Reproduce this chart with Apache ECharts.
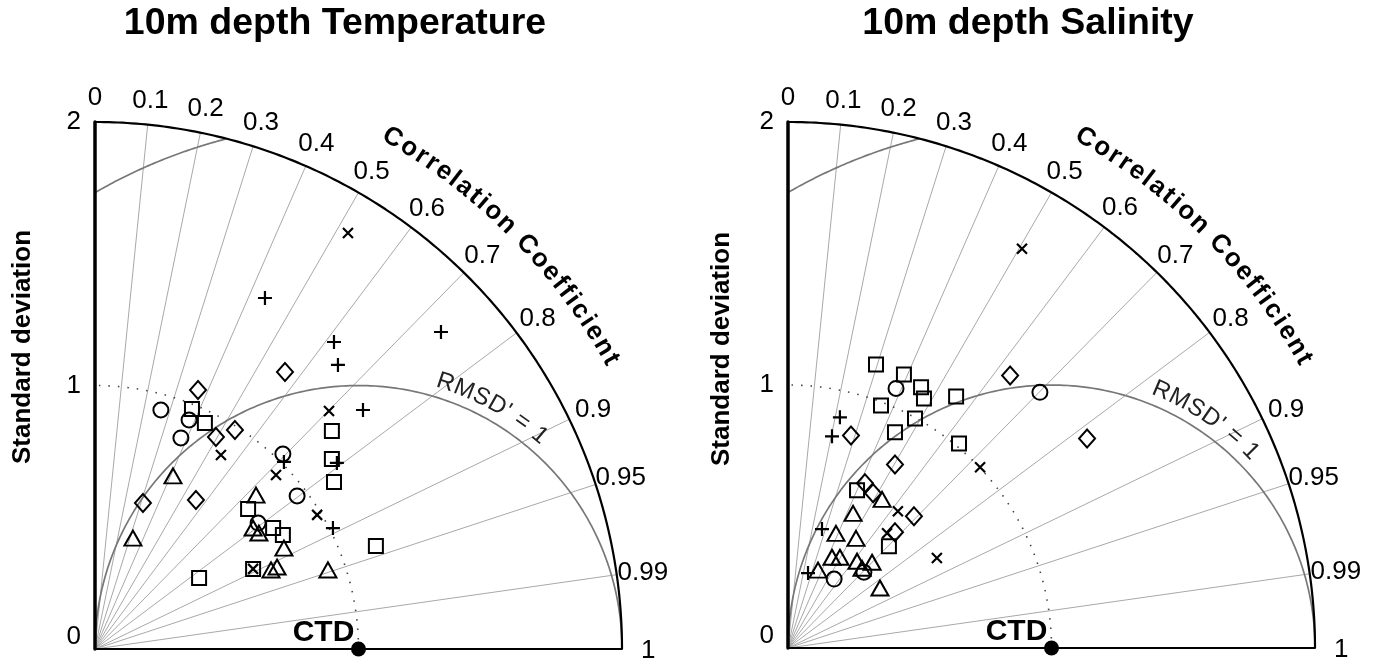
<!DOCTYPE html>
<html><head><meta charset="utf-8">
<script src="https://cdn.jsdelivr.net/npm/echarts@6/dist/echarts.min.js"></script>
<style>html,body{margin:0;padding:0;background:#fff}#c{width:1375px;height:661px}</style>
</head><body><div id="c"></div>
<script>
// ---------------- data ----------------
const titles = ['10m depth Temperature', '10m depth Salinity'];
const corrTicks = [0, 0.1, 0.2, 0.3, 0.4, 0.5, 0.6, 0.7, 0.8, 0.9, 0.95, 0.99, 1];
const corrTickLabels = ['0', '0.1', '0.2', '0.3', '0.4', '0.5', '0.6', '0.7', '0.8', '0.9', '0.95', '0.99', '1'];
const rayCorrs = [0.1, 0.2, 0.3, 0.4, 0.5, 0.6, 0.7, 0.8, 0.9, 0.95, 0.99];
const refStd = 1;          // CTD reference (normalised std)
const maxStd = 2;
const rmsdContours = [1, 2];
const rmsdLabel = "RMSD' = 1";
const refLabel = 'CTD';
const corrTitle = 'Correlation Coefficient';
const yName = 'Standard deviation';

// points: [std*corr, std*sqrt(1-corr^2)] in normalised std units
const tempCircle = [[0.250,0.907],[0.357,0.869],[0.326,0.801],[0.713,0.740],[0.767,0.581],[0.619,0.478]];
const tempSquare = [[0.368,0.911],[0.417,0.858],[0.395,0.269],[0.899,0.827],[0.899,0.721],[0.907,0.634],[0.581,0.531],[0.676,0.459],[0.713,0.433],[1.066,0.391],[0.600,0.304]];
const tempTriangle = [[0.296,0.657],[0.144,0.421],[0.611,0.584],[0.600,0.459],[0.622,0.440],[0.717,0.383],[0.668,0.300],[0.691,0.311],[0.884,0.300]];
const tempDiamond = [[0.721,1.051],[0.391,0.983],[0.531,0.831],[0.459,0.805],[0.182,0.554],[0.383,0.565]];
const tempPlus = [[0.645,1.332],[0.907,1.165],[0.922,1.078],[1.313,1.203],[1.017,0.907],[0.918,0.706],[0.903,0.459],[0.717,0.710]];
const tempCross = [[0.960,1.579],[0.478,0.736],[0.687,0.660],[0.888,0.903],[0.843,0.509],[0.600,0.304]];

const salCircle = [[0.410,0.987],[0.956,0.972],[0.175,0.262],[0.288,0.288]];
const salSquare = [[0.334,1.078],[0.440,1.040],[0.505,0.991],[0.516,0.949],[0.638,0.956],[0.353,0.922],[0.482,0.873],[0.406,0.820],[0.649,0.778],[0.262,0.600],[0.383,0.387]];
const salTriangle = [[0.357,0.565],[0.247,0.512],[0.182,0.436],[0.258,0.417],[0.167,0.345],[0.197,0.345],[0.262,0.330],[0.319,0.326],[0.114,0.296],[0.281,0.303],[0.349,0.228]];
const salDiamond = [[0.843,1.036],[0.239,0.808],[1.135,0.797],[0.406,0.698],[0.292,0.626],[0.323,0.588],[0.478,0.501],[0.406,0.440]];
const salPlus = [[0.197,0.877],[0.167,0.805],[0.129,0.452],[0.076,0.285]];
const salCross = [[0.888,1.518],[0.729,0.687],[0.417,0.520],[0.376,0.436],[0.565,0.342]];

const panels = [
  {circle: tempCircle, square: tempSquare, triangle: tempTriangle, diamond: tempDiamond, plus: tempPlus, cross: tempCross, rmsdAngle: 61},
  {circle: salCircle, square: salSquare, triangle: salTriangle, diamond: salDiamond, plus: salPlus, cross: salCross, rmsdAngle: 56}
];

// ---------------- layout ----------------
const FONT = 'Liberation Sans, Arial, Helvetica, sans-serif';
const grids = [
  {left: 95, top: 122, width: 527, height: 527},
  {left: 788, top: 122, width: 527, height: 526}
];
const pxPerUnit = 527 / maxStd;

function arcPts(cx, cy, r, a0, a1, n) {
  const pts = [];
  for (let i = 0; i <= n; i++) {
    const a = (a0 + (a1 - a0) * i / n) * Math.PI / 180;
    pts.push([cx + r * Math.cos(a), cy + r * Math.sin(a)]);
  }
  return pts;
}
const mctx = document.createElement('canvas').getContext('2d');
function arcText(text, font, spacing, cx, cy, rUnits, centerDeg) {
  mctx.font = font;
  const chars = [...text];
  const ws = chars.map(ch => mctx.measureText(ch).width);
  const total = ws.reduce((a, b) => a + b, 0) + spacing * (ws.length - 1);
  const rPx = rUnits * pxPerUnit;
  let s = -total / 2;
  const out = [];
  chars.forEach((ch, i) => {
    const sc = s + ws[i] / 2;
    const a = centerDeg * Math.PI / 180 - sc / rPx;
    out.push({name: ch, value: [cx + rUnits * Math.cos(a), cy + rUnits * Math.sin(a)], label: {rotate: a * 180 / Math.PI - 90}});
    s += ws[i] + spacing;
  });
  return out;
}

const PLUS = 'path://M0,6L12,6M6,0L6,12';
const CROSS = 'path://M0,0L10,10M0,10L10,0';
const markerDefs = [
  ['circle', 'circle', 15, 2],
  ['square', 'rect', 14, 2],
  ['triangle', 'triangle', [17, 15], 2],
  ['diamond', 'diamond', [16, 18], 2],
  ['plus', PLUS, 14, 2.2],
  ['cross', CROSS, 10, 2.2]
];

const xAxis = [], yAxis = [], series = [], graphic = [];
grids.forEach((g, i) => {
  xAxis.push({type: 'value', gridIndex: i, min: 0, max: maxStd, interval: 1,
    axisLine: {show: true, onZero: false, lineStyle: {color: '#000', width: 2}},
    axisTick: {show: false}, axisLabel: {show: false}, splitLine: {show: false}, z: 5});
  yAxis.push({type: 'value', gridIndex: i, min: 0, max: maxStd, interval: 1,
    axisLine: {show: true, onZero: false, lineStyle: {color: '#000', width: 3.5}},
    axisTick: {show: false}, splitLine: {show: false}, z: 5,
    axisLabel: {show: true, margin: 14, fontSize: 26, color: '#000', fontFamily: FONT,
      formatter: v => v === 0 ? '{z|0}' : String(v),
      rich: {z: {fontSize: 26, color: '#000', fontFamily: FONT, padding: [0, 0, 24, 0]}}}});
  const base = {xAxisIndex: i, yAxisIndex: i, silent: true, animation: false};
  const p = panels[i];

  // correlation rays
  series.push(Object.assign({type: 'lines', coordinateSystem: 'cartesian2d', z: 1,
    lineStyle: {color: '#a8a8a8', width: 1, opacity: 1},
    data: rayCorrs.map(c => ({coords: [[0, 0], [maxStd * c, maxStd * Math.sqrt(1 - c * c)]]}))}, base));
  // outer std arc
  series.push(Object.assign({type: 'line', showSymbol: false, symbol: 'none', clip: false, z: 4,
    lineStyle: {color: '#000', width: 2.2}, data: arcPts(0, 0, maxStd, 0, 90, 180)}, base));
  // std = ref dotted arc
  series.push(Object.assign({type: 'line', showSymbol: false, symbol: 'none', clip: false, z: 2,
    lineStyle: {color: '#444', width: 1.6, type: [1.5, 8]}, data: arcPts(0, 0, refStd, 0, 90, 180)}, base));
  // RMSD contours
  rmsdContours.forEach(r => {
    const xi = (maxStd * maxStd - r * r + refStd * refStd) / (2 * refStd);
    const a0 = Math.max(0, Math.acos(Math.min(1, (xi - refStd) / r)) * 180 / Math.PI);
    const a1 = Math.acos(Math.max(-1, -refStd / r)) * 180 / Math.PI;
    series.push(Object.assign({type: 'line', showSymbol: false, symbol: 'none', clip: false, z: 3,
      lineStyle: {color: '#777', width: 1.7}, data: arcPts(refStd, 0, r, a0, a1, 200)}, base));
  });
  // correlation tick labels
  series.push(Object.assign({type: 'scatter', clip: false, symbolSize: 1, itemStyle: {color: 'transparent', opacity: 1}, z: 6,
    label: {show: true, position: 'inside', formatter: '{b}', fontSize: 26, color: '#000', fontFamily: FONT},
    data: corrTicks.map((c, k) => ({name: corrTickLabels[k], value: [2.1 * c, 2.1 * Math.sqrt(1 - c * c) - 0.008]}))}, base));
  // curved axis title
  series.push(Object.assign({type: 'scatter', clip: false, symbolSize: 1, itemStyle: {color: 'transparent', opacity: 1}, z: 6,
    label: {show: true, position: 'inside', formatter: '{b}', fontSize: 26, fontWeight: 'bold', color: '#000', fontFamily: FONT},
    data: arcText(corrTitle, 'bold 26px ' + FONT, 2.2, 0, 0, 2.245, 44.8)}, base));
  // RMSD label
  series.push(Object.assign({type: 'scatter', clip: false, symbolSize: 1, itemStyle: {color: 'transparent', opacity: 1}, z: 6,
    label: {show: true, position: 'inside', formatter: '{b}', fontSize: 24, color: '#222', fontFamily: FONT},
    data: arcText(rmsdLabel, '24px ' + FONT, 1, refStd, 0, 1.063, p.rmsdAngle)}, base));
  // markers
  markerDefs.forEach(([key, sym, size, bw]) => {
    series.push(Object.assign({type: 'scatter', clip: false, symbol: sym, symbolSize: size, z: 8,
      itemStyle: {color: 'transparent', borderColor: '#000', borderWidth: bw, opacity: 1}, data: p[key]}, base));
  });
  // reference point
  series.push(Object.assign({type: 'scatter', clip: false, symbol: 'circle', symbolSize: 15, z: 9,
    itemStyle: {color: '#000', opacity: 1},
    label: {show: true, formatter: refLabel, position: 'top', distance: 0, offset: [-35, 6],
      fontSize: 30, fontWeight: 'bold', color: '#000', fontFamily: FONT},
    data: [[refStd, 0]]}, base));
});

graphic.push({type: 'text', x: 335, y: 24, style: {text: titles[0], font: 'bold 37.5px ' + FONT, fill: '#000', textAlign: 'center', textVerticalAlign: 'middle'}});
graphic.push({type: 'text', x: 1028, y: 24, style: {text: titles[1], font: 'bold 37.5px ' + FONT, fill: '#000', textAlign: 'center', textVerticalAlign: 'middle'}});
graphic.push({type: 'text', x: 23, y: 347, rotation: Math.PI / 2, style: {text: yName, font: 'bold 26px ' + FONT, fill: '#000', textAlign: 'center', textVerticalAlign: 'middle'}});
graphic.push({type: 'text', x: 722, y: 349, rotation: Math.PI / 2, style: {text: yName, font: 'bold 26px ' + FONT, fill: '#000', textAlign: 'center', textVerticalAlign: 'middle'}});

const chart = echarts.init(document.getElementById('c'), null, {renderer: 'canvas'});
chart.setOption({
  animation: false,
  backgroundColor: '#fff',
  grid: grids.map(g => Object.assign({containLabel: false}, g)),
  xAxis, yAxis, series, graphic
});
</script>
</body></html>
